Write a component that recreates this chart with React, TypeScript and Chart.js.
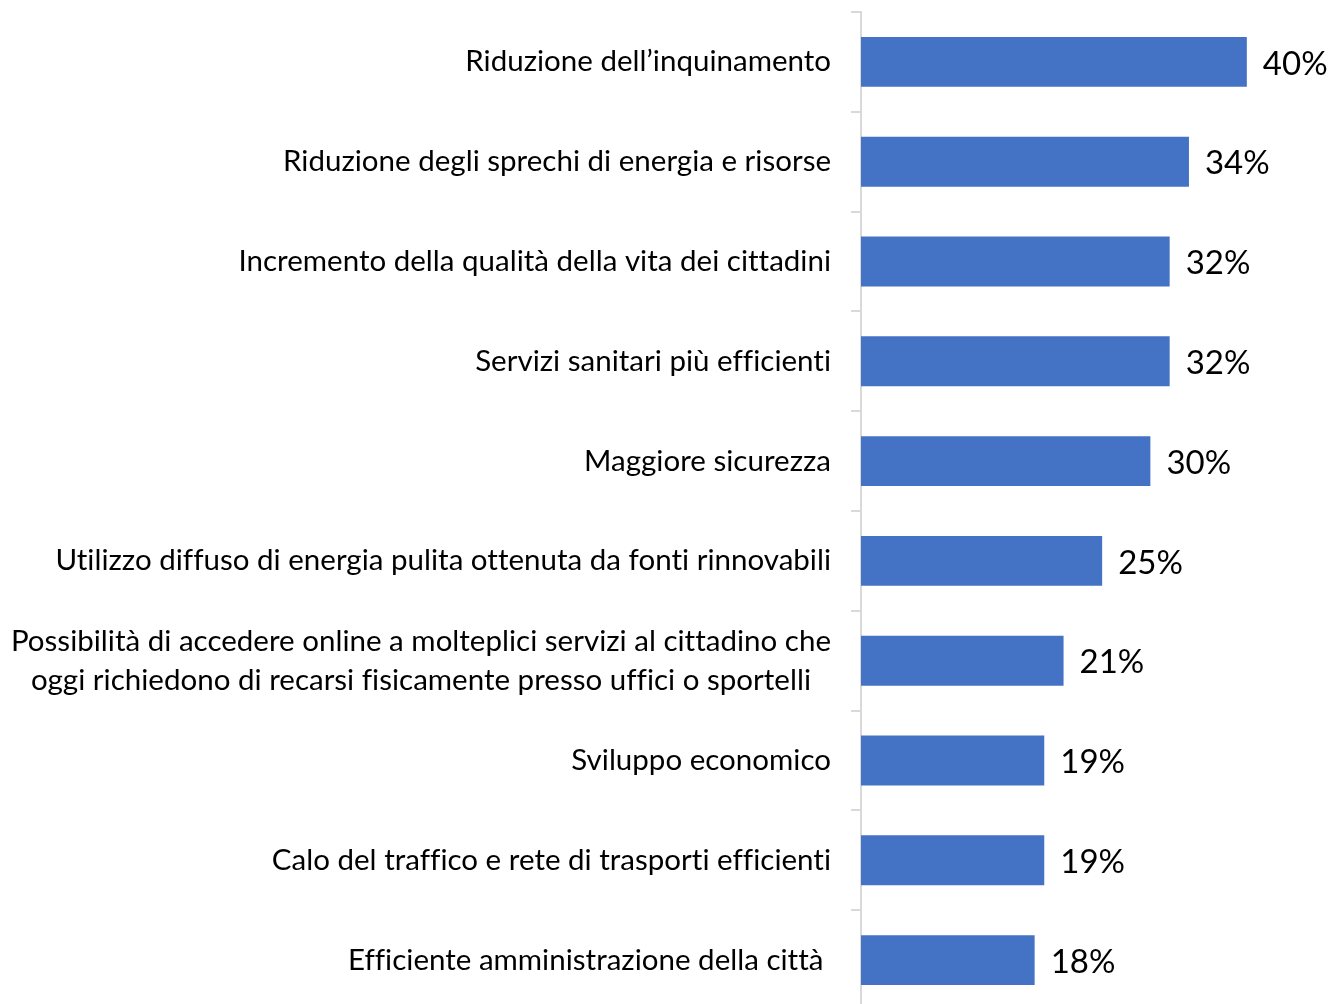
import React, { useEffect, useRef } from "react";
import { Chart, registerables } from "chart.js";

Chart.register(...registerables);

const categories: string[][] = [
  ["Riduzione dell’inquinamento"],
  ["Riduzione degli sprechi di energia e risorse"],
  ["Incremento della qualità della vita dei cittadini"],
  ["Servizi sanitari più efficienti"],
  ["Maggiore sicurezza"],
  ["Utilizzo diffuso di energia pulita ottenuta da fonti rinnovabili"],
  [
    "Possibilità di accedere online a molteplici servizi al cittadino che",
    "oggi richiedono di recarsi fisicamente presso uffici o sportelli",
  ],
  ["Sviluppo economico"],
  ["Calo del traffico e rete di trasporti efficienti"],
  ["Efficiente amministrazione della città "],
];

const values: number[] = [40, 34, 32, 32, 30, 25, 21, 19, 19, 18];

const valueLabels: string[] = values.map((v) => `${v}%`);

const LABEL_FONT = "29.5px Lato";
const VALUE_FONT = "33px Lato";

const labelPlugin = {
  id: "customLabels",
  afterDraw(chart: any) {
    const ctx = chart.ctx;
    const yScale = chart.scales.y;
    const meta = chart.getDatasetMeta(0);
    ctx.save();
    ctx.fillStyle = "#000000";
    ctx.font = LABEL_FONT;
    try {
      (ctx as any).letterSpacing = "0.01px";
    } catch (e) {}
    ctx.textBaseline = "middle";
    ctx.textAlign = "center";
    const lineH = 39;
    categories.forEach((lines, i) => {
      const yc = yScale.getPixelForValue(i);
      const widest = Math.max(...lines.map((l) => ctx.measureText(l).width));
      const xc = chart.chartArea.left - 30 - widest / 2;
      const startY = yc - ((lines.length - 1) * lineH) / 2;
      lines.forEach((l, j) => {
        ctx.fillText(l, xc, startY + j * lineH);
      });
    });
    ctx.font = VALUE_FONT;
    ctx.textAlign = "left";
    meta.data.forEach((bar: any, i: number) => {
      ctx.fillText(valueLabels[i], bar.x + 16, bar.y + 2);
    });
    ctx.restore();
  },
};

export default function App() {
  const ref = useRef<HTMLCanvasElement | null>(null);
  useEffect(() => {
    document.body.style.margin = "0";
    const canvas = ref.current;
    if (!canvas) return;
    const chart = new Chart(canvas, {
      type: "bar",
      data: {
        labels: categories.map((c) => c.join(" ")),
        datasets: [
          {
            data: values,
            backgroundColor: "#4472C4",
            borderWidth: 0,
            categoryPercentage: 1,
            barPercentage: 0.5,
          },
        ],
      },
      options: {
        indexAxis: "y",
        responsive: false,
        animation: false,
        devicePixelRatio: 1,
        layout: { padding: { top: 12, bottom: 10, right: 7, left: 0 } },
        plugins: {
          legend: { display: false },
          tooltip: { enabled: false },
        },
        scales: {
          x: {
            display: false,
            min: 0,
            max: 48,
          },
          y: {
            afterFit(scale: any) {
              scale.width = 861;
            },
            ticks: { display: false },
            grid: {
              offset: true,
              drawOnChartArea: false,
              drawTicks: true,
              tickLength: 10,
              color: "#d9d9d9",
              lineWidth: 2,
            },
            border: { display: true, color: "#d9d9d9", width: 2 },
          },
        },
      },
      plugins: [labelPlugin],
    });
    return () => chart.destroy();
  }, []);
  return (
    <div style={{ position: "absolute", left: 0, top: 0, width: 1331, height: 1020 }}>
      <canvas ref={ref} width={1331} height={1020} style={{ width: 1331, height: 1020 }} />
    </div>
  );
}
